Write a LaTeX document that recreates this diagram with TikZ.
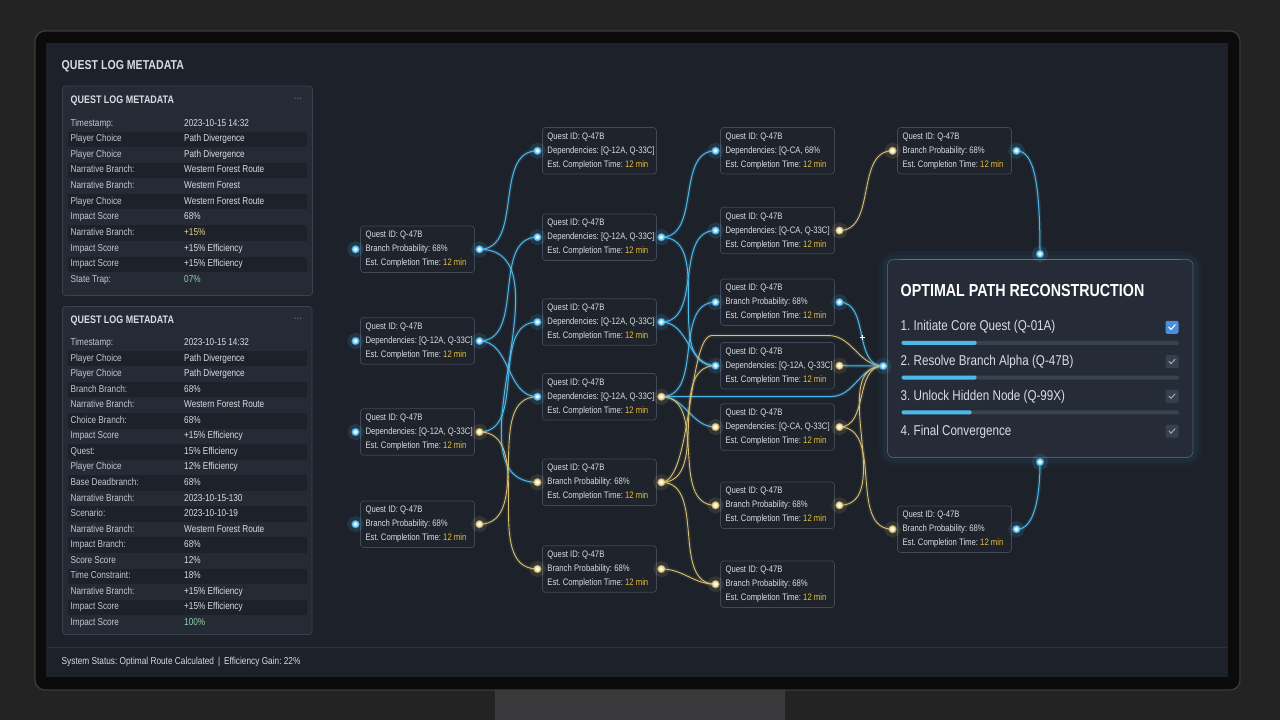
\documentclass[tikz,border=0pt]{standalone}
\usepackage{fontspec}
\setmainfont{Liberation Sans}[FakeStretch=0.82]
\usepackage{graphicx}
\usetikzlibrary{calc}
\pgfdeclarelayer{back}
\pgfdeclarelayer{lines}
\pgfsetlayers{back,lines,main}
\frenchspacing
\newcommand\myfs[2]{\fontsize{#1}{#2}\selectfont}
\definecolor{outerbg}{HTML}{232323}
\definecolor{standc}{HTML}{3A3A3C}
\definecolor{bezel}{HTML}{0B0B0C}
\definecolor{rim}{HTML}{3C3C3E}
\definecolor{screen}{HTML}{1C212A}
\definecolor{panelbg}{HTML}{252B35}
\definecolor{panelln}{HTML}{3A4250}
\definecolor{stripe}{HTML}{1D2129}
\definecolor{nodebg}{HTML}{1E232C}
\definecolor{nodeln}{HTML}{414958}
\definecolor{txt}{HTML}{D8DDE4}
\definecolor{lbl}{HTML}{C3C9D2}
\definecolor{dim}{HTML}{8A93A0}
\definecolor{gold}{HTML}{E8BE3C}
\definecolor{bl}{HTML}{4DB9EA}
\definecolor{bdotc}{HTML}{8AD8FF}
\definecolor{yl}{HTML}{D8BF72}
\definecolor{ydotc}{HTML}{F3E3AA}
\definecolor{grn}{HTML}{8FD4A8}
\definecolor{ylt}{HTML}{E6D38E}
\definecolor{chk}{HTML}{4A8FDB}
\definecolor{chkoff}{HTML}{38404D}
\definecolor{chkmark}{HTML}{9FB4CC}
\definecolor{track}{HTML}{3A4250}
\definecolor{rpbg}{HTML}{252C37}
\definecolor{rpln}{HTML}{4B5A6E}
\definecolor{sepc}{HTML}{2C3340}
\tikzset{
  qbox/.style={draw=nodeln, fill=nodebg, rounded corners=3pt, line width=0.7pt,
    inner sep=0pt, minimum width=114pt, minimum height=46.5pt},
  qtext/.style={anchor=west, inner sep=0pt, align=left, font=\myfs{9.4}{14}, text=txt},
  bdot/.style={circle, inner sep=0pt, minimum size=7pt, fill=bdotc, draw=bl, line width=1.3pt,
    draw opacity=0.6, preaction={draw=bl, line width=9pt, draw opacity=0.14},
    path picture={\fill[white] (path picture bounding box.center) circle (1.8pt);}},
  ydot/.style={circle, inner sep=0pt, minimum size=7pt, fill=ydotc, draw=yl, line width=1.3pt,
    draw opacity=0.6, preaction={draw=yl, line width=9pt, draw opacity=0.13},
    path picture={\fill[white] (path picture bounding box.center) circle (1.8pt);}},
  bline/.style={draw=bl, line width=1pt, preaction={draw=bl, line width=4pt, draw opacity=0.14}},
  yline/.style={draw=yl, line width=0.9pt, preaction={draw=yl, line width=4pt, draw opacity=0.11}},
  rowl/.style={anchor=west, inner sep=0pt, font=\myfs{10}{12}, text=lbl, text height=7pt, text depth=2pt},
  rowv/.style={anchor=west, inner sep=0pt, font=\myfs{10}{12}, text height=7pt, text depth=2pt},
  hdr/.style={anchor=west, inner sep=0pt, font=\bfseries\myfs{10.9}{13}, text=txt},
  item/.style={anchor=west, inner sep=0pt, font=\myfs{14.2}{16}, text=txt},
  cbox/.style={rectangle, rounded corners=2pt, minimum size=13pt, inner sep=0pt},
}
\newcommand\qnode[4]{\node[qbox] (#1) at (#2,#3) {};
  \node[qtext] (#1t) at ($(#1.west)+(5.2,0.3)$) {Quest ID: Q-47B\\#4\\Est. Completion Time: \textcolor{gold}{12 min}};}
\begin{document}
\begin{tikzpicture}[x=1pt,y=-1pt]
\useasboundingbox (0,0) rectangle (1280,720);
\begin{pgfonlayer}{back}
\fill[outerbg] (0,0) rectangle (1280,720);
\fill[standc] (495,688) rectangle (785,720);
\fill[bezel, draw=rim, line width=1.2pt, rounded corners=10pt] (35,31) rectangle (1240,690);
\fill[screen] (46,43) rectangle (1228,677);
% right panel glow
\draw[bl, line width=18pt, opacity=0.03, rounded corners=9pt] (887.5,259.5) rectangle (1193,457.5);
\draw[bl, line width=10pt, opacity=0.05, rounded corners=7pt] (887.5,259.5) rectangle (1193,457.5);
\end{pgfonlayer}

% ---------- left column ----------
\node[anchor=west, inner sep=0pt, font=\bfseries\myfs{12.9}{15}, text=txt] (title) at (61.5,66) {QUEST LOG METADATA};

\draw[panelln, fill=panelbg, rounded corners=3pt, line width=0.7pt] (62.5,86) rectangle (312.5,295.5);
\foreach \i in {1,3,5,7,9} \fill[stripe] (68,{123.5+15.65*\i-7.6}) rectangle (307,{123.5+15.65*\i+7.6});
\node[hdr] (h1) at (70.5,101) {QUEST LOG METADATA};
\node[anchor=center, inner sep=0pt, font=\myfs{10}{12}, text=dim] (m1) at (298,100) {···};
\foreach \l/\v/\c [count=\i from 0] in {
  Timestamp:/2023-10-15 14:32/txt,
  Player Choice/Path Divergence/txt,
  Player Choice/Path Divergence/txt,
  Narrative Branch:/Western Forest Route/txt,
  Narrative Branch:/Western Forest/txt,
  Player Choice/Western Forest Route/txt,
  Impact Score/68\%/txt,
  Narrative Branch:/+15\%/ylt,
  Impact Score/+15\% Efficiency/txt,
  Impact Score/+15\% Efficiency/txt,
  State Trap:/07\%/grn} {
  \node[rowl] (pa\i) at (70.5,{123.5+15.65*\i}) {\l};
  \node[rowv, text=\c] (va\i) at (184,{123.5+15.65*\i}) {\v};
}

\draw[panelln, fill=panelbg, rounded corners=3pt, line width=0.7pt] (62.5,306.5) rectangle (312,634.5);
\foreach \i in {1,3,5,7,9,11,13,15,17} \fill[stripe] (68,{343.3+15.52*\i-7.6}) rectangle (307,{343.3+15.52*\i+7.6});
\node[hdr] (h2) at (70.5,321) {QUEST LOG METADATA};
\node[anchor=center, inner sep=0pt, font=\myfs{10}{12}, text=dim] (m2) at (298,320) {···};
\foreach \l/\v/\c [count=\i from 0] in {
  Timestamp:/2023-10-15 14:32/txt,
  Player Choice/Path Divergence/txt,
  Player Choice/Path Divergence/txt,
  Branch Branch:/68\%/txt,
  Narrative Branch:/Western Forest Route/txt,
  Choice Branch:/68\%/txt,
  Impact Score/+15\% Efficiency/txt,
  Quest:/15\% Efficiency/txt,
  Player Choice/12\% Efficiency/txt,
  Base Deadbranch:/68\%/txt,
  Narrative Branch:/2023-10-15-130/txt,
  Scenario:/2023-10-10-19/txt,
  Narrative Branch:/Western Forest Route/txt,
  Impact Branch:/68\%/txt,
  Score Score/12\%/txt,
  Time Constraint:/18\%/txt,
  Narrative Branch:/+15\% Efficiency/txt,
  Impact Score/+15\% Efficiency/txt,
  Impact Score/100\%/grn} {
  \node[rowl] (pb\i) at (70.5,{343.3+15.52*\i}) {\l};
  \node[rowv, text=\c] (vb\i) at (184,{343.3+15.52*\i}) {\v};
}

% ---------- status ----------
\draw[sepc, line width=0.8pt] (47,647.5) -- (1227,647.5);
\node[anchor=west, inner sep=0pt, font=\myfs{10.1}{12}, text=txt] (status) at (61.5,662) {System Status: Optimal Route Calculated \,|\, Efficiency Gain: 22\%};

% ---------- quest nodes ----------
\qnode{A1}{417.5}{249.3}{Branch Probability: 68\%}
\qnode{A2}{417.5}{341}{Dependencies: [Q-12A, Q-33C]}
\qnode{A3}{417.5}{432}{Dependencies: [Q-12A, Q-33C]}
\qnode{A4}{417.5}{524.2}{Branch Probability: 68\%}
\qnode{B1}{599.4}{150.8}{Dependencies: [Q-12A, Q-33C]}
\qnode{B2}{599.4}{237.2}{Dependencies: [Q-12A, Q-33C]}
\qnode{B3}{599.4}{322}{Dependencies: [Q-12A, Q-33C]}
\qnode{B4}{599.4}{396.7}{Dependencies: [Q-12A, Q-33C]}
\qnode{B5}{599.4}{482.3}{Branch Probability: 68\%}
\qnode{B6}{599.4}{569}{Branch Probability: 68\%}
\qnode{C1}{777.5}{150.8}{Dependencies: [Q-CA, 68\%}
\qnode{C2}{777.5}{230.5}{Dependencies: [Q-CA, Q-33C]}
\qnode{C3}{777.5}{302.2}{Branch Probability: 68\%}
\qnode{C4}{777.5}{365.7}{Dependencies: [Q-12A, Q-33C]}
\qnode{C5}{777.5}{427}{Dependencies: [Q-CA, Q-33C]}
\qnode{C6}{777.5}{505.3}{Branch Probability: 68\%}
\qnode{C7}{777.5}{584.2}{Branch Probability: 68\%}
\qnode{D1}{954.5}{150.8}{Branch Probability: 68\%}
\qnode{D2}{954.5}{529.2}{Branch Probability: 68\%}

% ---------- right panel ----------
\draw[rpln, fill=rpbg, rounded corners=6pt, line width=0.8pt] (887.5,259.5) rectangle (1193,457.5);
\draw[bl, opacity=0.35, line width=0.8pt] (900,259.5) -- (1180,259.5);
\node[anchor=west, inner sep=0pt, font=\bfseries\myfs{17.4}{20}, text=white] (ptitle) at (900.5,291) {OPTIMAL PATH RECONSTRUCTION};
\node[item] (it1) at (900.5,327.3) {1. Initiate Core Quest (Q-01A)};
\node[item] (it2) at (900.5,362) {2. Resolve Branch Alpha (Q-47B)};
\node[item] (it3) at (900.5,396.7) {3. Unlock Hidden Node (Q-99X)};
\node[item] (it4) at (900.5,431.5) {4. Final Convergence};
\fill[track, rounded corners=1.5pt] (901.5,340.8) rectangle (1179,344.8);
\fill[bl, rounded corners=1.5pt] (901.5,340.8) rectangle (976.7,344.8);
\fill[track, rounded corners=1.5pt] (901.5,375.5) rectangle (1179,379.5);
\fill[bl, rounded corners=1.5pt] (901.5,375.5) rectangle (976.7,379.5);
\fill[track, rounded corners=1.5pt] (901.5,410.3) rectangle (1179,414.3);
\fill[bl, rounded corners=1.5pt] (901.5,410.3) rectangle (971.7,414.3);
\node[cbox, fill=chk] (cb1) at (1172,327.3) {};
\node[cbox, fill=chkoff] (cb2) at (1172,361.7) {};
\node[cbox, fill=chkoff] (cb3) at (1172,396.3) {};
\node[cbox, fill=chkoff] (cb4) at (1172,431.2) {};
\draw[white, line width=1.1pt, line cap=round, line join=round] ($(cb1.center)+(-3.2,-0.2)$) -- ($(cb1.center)+(-1,2.2)$) -- ($(cb1.center)+(3.2,-2.6)$);
\foreach \k in {2,3,4}
  \draw[chkmark, line width=0.9pt, line cap=round, line join=round] ($(cb\k.center)+(-3,-0.2)$) -- ($(cb\k.center)+(-1,2)$) -- ($(cb\k.center)+(3,-2.4)$);

% ---------- dots ----------
\foreach \n/\l/\r in {A1/bdot/bdot, A2/bdot/bdot, A3/bdot/ydot, A4/bdot/ydot,
  B2/bdot/bdot, B3/bdot/bdot, B4/bdot/ydot, B5/ydot/ydot, B6/ydot/ydot,
  C2/bdot/ydot, C3/bdot/bdot, C4/bdot/ydot, C5/ydot/ydot, C6/ydot/ydot,
  D1/ydot/bdot, D2/ydot/bdot} {
  \node[\l] (\n l) at ($(\n.west)+(-4.6,0)$) {};
  \node[\r] (\n r) at ($(\n.east)+(4.6,0)$) {};
}
\node[bdot] (B1l) at ($(B1.west)+(-4.6,0)$) {};
\node[bdot] (C1l) at ($(C1.west)+(-4.6,0)$) {};
\node[ydot] (C7l) at ($(C7.west)+(-4.6,0)$) {};
\node[bdot] (Ptop) at (1040,254) {};
\node[bdot] (Pbot) at (1040,462) {};
\node[bdot] (hub) at (883.3,366) {};

% ---------- connectors ----------
\begin{pgfonlayer}{lines}
\draw[bline] (A1r.center) to[out=0,in=180] (B1l.center);
\draw[bline] (A1r.center) to[out=0,in=180] (B5l.center);
\draw[bline] (A2r.center) to[out=0,in=180] (B2l.center);
\draw[bline] (A2r.center) to[out=0,in=180] (B4l.center);
\draw[bline] (A3r.center) to[out=0,in=180] (B3l.center);
\draw[yline] (A3r.center) to[out=0,in=180] (B6l.center);
\draw[yline] (A4r.center) to[out=0,in=180] (B4l.center);

\draw[bline] (B2r.center) to[out=0,in=180] (C1l.center);
\draw[bline] (B2r.center) to[out=0,in=180] (C4l.center);
\draw[bline] (B3r.center) to[out=0,in=180] (C2l.center);
\draw[bline] (B3r.center) to[out=0,in=180] (C4l.center);
\draw[bline] (B4r.center) to[out=0,in=180] (C3l.center);
\draw[bline] (B4r.center) to[out=0,in=180] (C5l.center);
\draw[yline] (B4r.center) to[out=0,in=180] (C6l.center);
\coordinate (r1) at (831,396.5);
\draw[bline] (B4r.center) -- (r1) to[out=0,in=180] (hub.center);
\draw[yline] (B5r.center) to[out=0,in=180] (C4l.center);
\coordinate (r2) at (712,335.5);
\coordinate (r3) at (828,335.5);
\draw[yline] (B5r.center) .. controls (692,482) and (688,335.5) .. (r2) -- (r3) to[out=0,in=180] (hub.center);
\draw[yline] (B5r.center) to[out=0,in=180] (C7l.center);
\draw[yline] (B6r.center) to[out=0,in=180] (C7l.center);

\draw[yline] (C2r.center) to[out=0,in=180] (D1l.center);
\draw[bline] (C3r.center) to[out=0,in=180] (hub.center);
\draw[bline] (C4r.center) -- (hub.center);
\draw[yline] (C5r.center) to[out=0,in=180] (hub.center);
\draw[yline] (C5r.center) to[out=0,in=180] (D2l.center);
\draw[yline] (C6r.center) to[out=0,in=180] (hub.center);
\draw[bline] (D1r.center) .. controls (1034,151) and (1040,182) .. (Ptop.center);
\draw[bline] (D2r.center) .. controls (1034,530) and (1040,498) .. (Pbot.center);
\draw[bline] (hub.center) -- (887.5,366);
\end{pgfonlayer}
\draw[white, line width=0.4pt] (859.5,337) -- (864.5,337) (862,334.5) -- (862,339.5);
\end{tikzpicture}
\end{document}
